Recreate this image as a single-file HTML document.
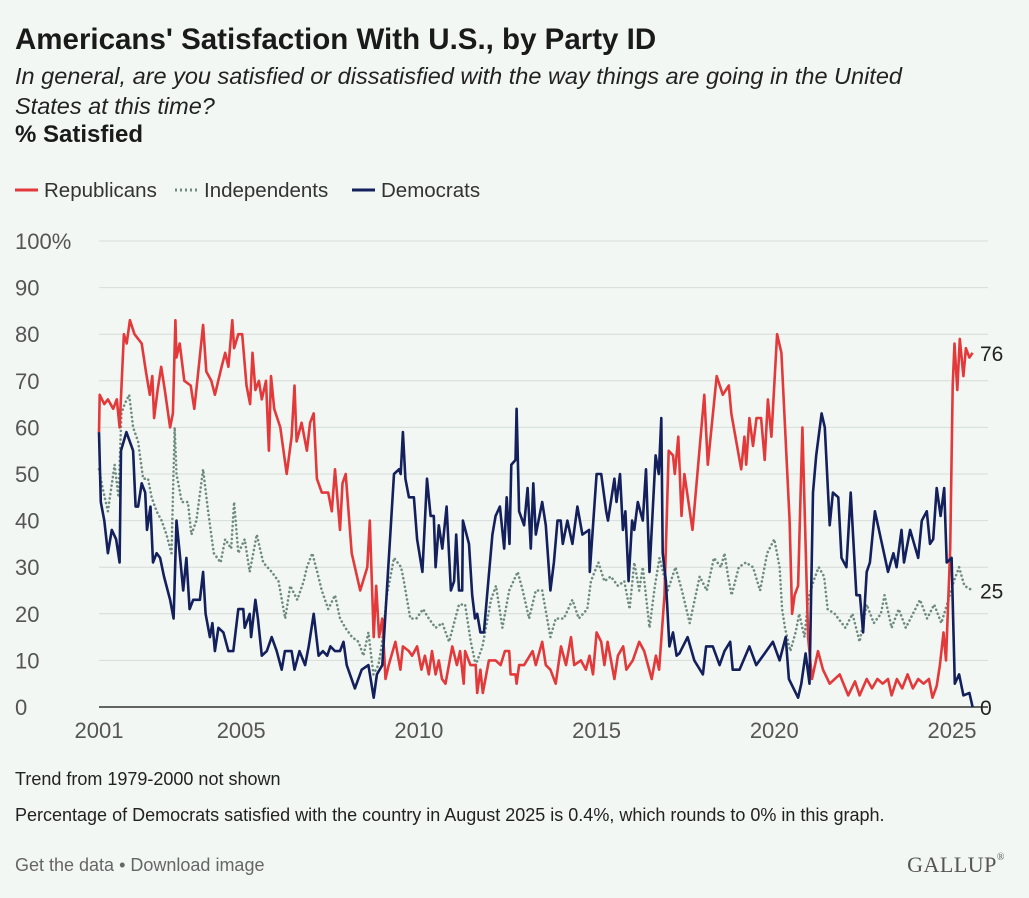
<!DOCTYPE html>
<html><head><meta charset="utf-8">
<style>
html,body{margin:0;padding:0;background:#f2f7f3;}
body{width:1029px;height:898px;position:relative;overflow:hidden;font-family:"Liberation Sans",sans-serif;color:#1a1a1a;}
.abs{position:absolute;white-space:nowrap;}
</style></head>
<body>
<div class="abs" style="left:15px;top:23px;font-size:29.5px;font-weight:bold;">Americans' Satisfaction With U.S., by Party ID</div>
<div class="abs" style="left:15px;top:61px;font-size:23.5px;font-style:italic;line-height:30px;white-space:normal;width:940px;color:#222;">In general, are you satisfied or dissatisfied with the way things are going in the United States at this time?</div>
<div class="abs" style="left:15px;top:121px;font-size:24px;font-weight:bold;">% Satisfied</div>

<svg class="abs" style="left:0;top:0" width="1029" height="898" id="svg">
  <g font-family="Liberation Sans, sans-serif" font-size="20.5" fill="#333">
    <g><line x1="15" y1="190" x2="38" y2="190" stroke="#e3393b" stroke-width="3"/><text x="44" y="197">Republicans</text></g>
    <g><line x1="175" y1="190" x2="198" y2="190" stroke="#6e8b80" stroke-width="3" stroke-dasharray="2 3"/><text x="204" y="197">Independents</text></g>
    <g><line x1="352" y1="190" x2="375" y2="190" stroke="#13205c" stroke-width="3"/><text x="381" y="197">Democrats</text></g>
  </g>
  <g id="grid"></g>
  <g id="series"></g>
  <g id="labels"></g>
</svg>

<div class="abs" style="left:15px;top:769px;font-size:18px;color:#222;">Trend from 1979-2000 not shown</div>
<div class="abs" style="left:15px;top:805px;font-size:18px;color:#222;">Percentage of Democrats satisfied with the country in August 2025 is 0.4%, which rounds to 0% in this graph.</div>
<div class="abs" style="left:15px;top:855px;font-size:18px;color:#666;"><span>Get the data</span> • <span>Download image</span></div>
<div class="abs" style="right:24px;top:852px;font-size:22px;font-family:'Liberation Serif',serif;color:#555;letter-spacing:0.5px;">GALLUP<span style="font-size:10px;vertical-align:top">&#174;</span></div>

<script>
const yTicks=[0,10,20,30,40,50,60,70,80,90,100];
const yTickLabels=["0","10","20","30","40","50","60","70","80","90","100%"];
const xTicks=[2001,2005,2010,2015,2020,2025];
const repDates=[2001.0,2001.02,2001.15,2001.25,2001.4,2001.5,2001.58,2001.7,2001.78,2001.87,2002.0,2002.2,2002.32,2002.43,2002.5,2002.55,2002.65,2002.75,2002.85,2003.0,2003.08,2003.15,2003.18,2003.27,2003.4,2003.58,2003.68,2003.78,2003.93,2004.02,2004.16,2004.26,2004.45,2004.55,2004.64,2004.75,2004.8,2004.92,2005.03,2005.15,2005.25,2005.32,2005.4,2005.5,2005.58,2005.7,2005.78,2005.84,2005.93,2006.1,2006.28,2006.42,2006.5,2006.56,2006.7,2006.85,2006.94,2007.04,2007.13,2007.27,2007.45,2007.55,2007.64,2007.78,2007.85,2007.94,2008.11,2008.35,2008.55,2008.62,2008.73,2008.8,2008.88,2008.97,2009.06,2009.15,2009.34,2009.48,2009.55,2009.72,2009.81,2009.95,2010.07,2010.17,2010.28,2010.37,2010.47,2010.56,2010.65,2010.75,2010.94,2011.07,2011.16,2011.26,2011.3,2011.45,2011.6,2011.64,2011.73,2011.8,2011.97,2012.16,2012.3,2012.42,2012.54,2012.58,2012.72,2012.75,2012.82,2012.96,2013.2,2013.29,2013.47,2013.57,2013.7,2013.85,2014.0,2014.14,2014.28,2014.37,2014.56,2014.7,2014.8,2014.9,2015.0,2015.13,2015.22,2015.31,2015.5,2015.6,2015.75,2015.84,2016.02,2016.2,2016.34,2016.55,2016.67,2016.76,2016.91,2017.03,2017.15,2017.2,2017.3,2017.39,2017.47,2017.7,2018.03,2018.13,2018.38,2018.55,2018.72,2018.79,2019.07,2019.16,2019.21,2019.3,2019.4,2019.5,2019.63,2019.73,2019.82,2019.92,2020.08,2020.2,2020.43,2020.5,2020.57,2020.67,2020.79,2020.95,2021.06,2021.23,2021.37,2021.56,2021.84,2022.08,2022.27,2022.4,2022.6,2022.75,2022.9,2023.05,2023.2,2023.3,2023.45,2023.6,2023.75,2023.9,2024.05,2024.2,2024.35,2024.45,2024.57,2024.66,2024.76,2024.83,2024.95,2025.02,2025.07,2025.15,2025.22,2025.32,2025.39,2025.49,2025.58];
const repValues=[59,67,65,66,64,66,60,80,78,83,80,78,72,67,71,62,68,73,68,60,63,83,75,78,70,69,64,71,82,72,70,67,73,76,73,83,77,80,80,69,65,76,68,70,66,70,55,71,64,60,50,58,69,57,61,55,61,63,49,46,46,42,51,38,48,50,33,25,30,40,15,26,15,19,6,9,14,8,13,12,11,13,8,11,7,12,7,10,6,5,13,9,12,5,12,9,9,3,8,3,10,10,9,12,12,7,7,5,9,9,12,9,14,9,8,5,13,9,15,9,10,8,11,7,16,14,9,14,6,11,13,8,10,14,12,6,11,8,24,55,54,50,58,41,50,38,67,52,71,67,69,63,51,58,52,62,56,62,62,53,66,58,80,76,40,20,24,26,60,15,6,12,8,5,7,2.5,5.5,2.5,6,4,6,5,6,2.5,6,4,7,4,6,5,6,2,4.5,9,16,10,34,69,78,68,79,71,77,75,76];
const indDates=[2001.0,2001.1,2001.25,2001.44,2001.55,2001.63,2001.72,2001.85,2001.96,2002.1,2002.24,2002.38,2002.48,2002.62,2002.76,2002.9,2003.04,2003.13,2003.18,2003.33,2003.5,2003.6,2003.74,2003.93,2004.07,2004.23,2004.42,2004.55,2004.72,2004.8,2004.92,2005.1,2005.24,2005.44,2005.62,2005.86,2006.05,2006.24,2006.38,2006.58,2006.76,2006.85,2007.0,2007.14,2007.27,2007.45,2007.64,2007.78,2007.93,2008.12,2008.3,2008.44,2008.58,2008.72,2008.86,2008.95,2009.1,2009.3,2009.5,2009.58,2009.76,2009.93,2010.12,2010.28,2010.47,2010.66,2010.85,2011.13,2011.3,2011.46,2011.6,2011.79,2012.03,2012.17,2012.35,2012.54,2012.78,2012.92,2013.1,2013.29,2013.47,2013.7,2013.85,2014.08,2014.32,2014.5,2014.74,2014.84,2015.05,2015.22,2015.4,2015.6,2015.78,2015.93,2016.06,2016.2,2016.3,2016.49,2016.64,2016.77,2017.0,2017.22,2017.4,2017.62,2017.9,2018.1,2018.3,2018.5,2018.6,2018.7,2018.8,2019.0,2019.2,2019.4,2019.6,2019.8,2020.0,2020.15,2020.22,2020.3,2020.45,2020.6,2020.7,2020.85,2020.95,2021.1,2021.25,2021.4,2021.5,2021.7,2021.9,2022.0,2022.2,2022.4,2022.6,2022.8,2023.0,2023.1,2023.3,2023.5,2023.7,2023.9,2024.1,2024.3,2024.5,2024.7,2024.9,2025.05,2025.2,2025.35,2025.58];
const indValues=[51,47,42,52,45,63,65,67,60,57,49,49,45,42,40,37,33,60,50,44,44,37,40,51,42,33,31,36,34,44,33,36,29,37,31,29,27,19,26,23,27,30,33,29,25,21,24,19,17,15,14,11,16,7,9,13,24,32,30,27,19,19,21,19,17,18,14,22,22,14,9,13,23,26,17,25,29,25,19,25,25,15,19,19,23,19,21,27,31,27,28,26,27,21,31,25,30,17,26,32,25,30,25,18,28,25,32,30,33,28,24,30,31,30,25,33,36,30,21,17,12,16,20,15,23,27,30,28,21,20,18,17,20,14,22,18,20,24,17,21,17,20,23,19,22,18,23,27,30,26,25];
const demDates=[2001.0,2001.05,2001.15,2001.25,2001.36,2001.48,2001.58,2001.62,2001.77,2001.96,2002.03,2002.1,2002.2,2002.3,2002.35,2002.45,2002.52,2002.62,2002.72,2002.83,2003.0,2003.1,2003.18,2003.27,2003.37,2003.46,2003.55,2003.65,2003.84,2003.93,2004.0,2004.12,2004.19,2004.26,2004.36,2004.5,2004.64,2004.78,2004.92,2005.06,2005.1,2005.24,2005.28,2005.4,2005.47,2005.58,2005.72,2005.86,2006.0,2006.14,2006.23,2006.42,2006.5,2006.64,2006.8,2006.9,2007.04,2007.18,2007.3,2007.42,2007.51,2007.64,2007.78,2007.88,2007.97,2008.2,2008.39,2008.58,2008.73,2008.82,2008.97,2009.3,2009.44,2009.49,2009.55,2009.62,2009.72,2009.86,2009.95,2010.1,2010.23,2010.33,2010.42,2010.47,2010.56,2010.66,2010.78,2010.9,2010.99,2011.05,2011.13,2011.22,2011.24,2011.41,2011.5,2011.58,2011.64,2011.73,2011.83,2011.92,2012.07,2012.16,2012.28,2012.4,2012.47,2012.55,2012.6,2012.72,2012.75,2012.82,2012.96,2013.06,2013.15,2013.22,2013.29,2013.47,2013.57,2013.7,2013.8,2013.9,2013.99,2014.05,2014.18,2014.32,2014.46,2014.6,2014.79,2014.81,2015.0,2015.13,2015.27,2015.32,2015.5,2015.56,2015.66,2015.74,2015.81,2015.9,2016.0,2016.06,2016.16,2016.3,2016.39,2016.49,2016.66,2016.75,2016.82,2016.86,2016.95,2017.05,2017.15,2017.25,2017.33,2017.56,2017.75,2017.99,2018.08,2018.27,2018.46,2018.6,2018.76,2018.83,2019.02,2019.3,2019.49,2019.73,2019.96,2020.15,2020.32,2020.41,2020.67,2020.76,2020.88,2020.99,2021.09,2021.18,2021.33,2021.42,2021.56,2021.65,2021.8,2021.89,2022.03,2022.15,2022.31,2022.41,2022.5,2022.6,2022.69,2022.83,2023.06,2023.2,2023.35,2023.44,2023.58,2023.65,2023.82,2024.05,2024.15,2024.29,2024.38,2024.47,2024.57,2024.68,2024.78,2024.85,2024.99,2025.08,2025.2,2025.32,2025.49,2025.58];
const demValues=[59,44,40,33,38,36,31,55,59,55,43,43,48,46,38,43,31,33,32,28,23,19,40,33,25,32,21,23,23,29,20,15,18,12,17,16,12,12,21,21,17,20,15,23,19,11,12,15,12,8,12,12,8,12,9,13,20,11,12,11,13,12,12,14,9,4,8,9,2,7,9,50,51,50,59,49,45,45,36,29,49,41,41,30,39,34,43,25,27,37,25,25,40,35,24,19,20,16,16,24,37,41,43,34,45,35,52,53,64,42,39,47,34,48,37,44,39,25,31,40,40,35,40,35,43,37,38,29,50,50,42,40,49,44,50,38,42,27,40,38,44,40,51,29,54,50,62,33,27,13,16,11,11.5,15,10,7,13,13,9,12,14,8,8,13,9,11.5,14,10,15,6,2,5,11.5,5,46,54,63,60,39,46,45,32,30,46,24,24,16,29,31,42,34,29,33,30,38,31,38,32,40,42,35,36,47,41,47,31,32,5,7,2.5,3,0];
const endLabels=["76","25","0"];

const NS="http://www.w3.org/2000/svg";
const X0=99,X1=988,Y0=707,Y100=241,T0=2001,T1=2025;
const xS=t=>X0+(t-T0)*(952-X0)/(T1-T0);
const yS=v=>Y0-v*(Y0-Y100)/100;
const grid=document.getElementById('grid'),ser=document.getElementById('series'),lab=document.getElementById('labels');
function mk(tag,attrs,parent){const e=document.createElementNS(NS,tag);for(const k in attrs)e.setAttribute(k,attrs[k]);parent.appendChild(e);return e;}
yTicks.forEach((v,i)=>{
  const g=mk('line',{x1:X0,x2:X1,y1:yS(v),y2:yS(v),stroke:v===0?'#333':'#d6dcd8','stroke-width':v===0?1.5:1},grid);
  
  
  const t=mk('text',{x:15,y:yS(v)+8,'font-size':22,fill:'#555','font-family':'Liberation Sans, sans-serif'},grid);
  t.textContent=yTickLabels[i];
  
  
});
xTicks.forEach(yr=>{
  const t=mk('text',{x:xS(yr),y:738,'font-size':22,fill:'#555','text-anchor':'middle','font-family':'Liberation Sans, sans-serif'},grid);
  t.textContent=yr;
  
  
});
function line(dates,vals,color,dash,name){
  const d=dates.map((t,i)=>(i?'L':'M')+xS(t).toFixed(1)+','+yS(vals[i]).toFixed(1)).join('');
  const p=mk('path',{d:d,fill:'none',stroke:color,'stroke-width':2.6,'stroke-linejoin':'round','stroke-linecap':dash?'round':'butt'},ser);
  if(dash)p.setAttribute('stroke-dasharray','0.1 4.2');
  
  
  return p;
}
line(indDates,indValues,'#6e8b80',true,'independents-line');
line(repDates,repValues,'#e3393b',false,'republicans-line');
line(demDates,demValues,'#13205c',false,'democrats-line');
const lastVals=[repValues[repValues.length-1],indValues[indValues.length-1],demValues[demValues.length-1]];
lastVals.forEach((v,i)=>{
  const t=mk('text',{x:980,y:yS(v)+8,'font-size':21,fill:'#222','font-family':'Liberation Sans, sans-serif'},lab);
  t.textContent=endLabels[i];
  
  
});
</script>
</body></html>
